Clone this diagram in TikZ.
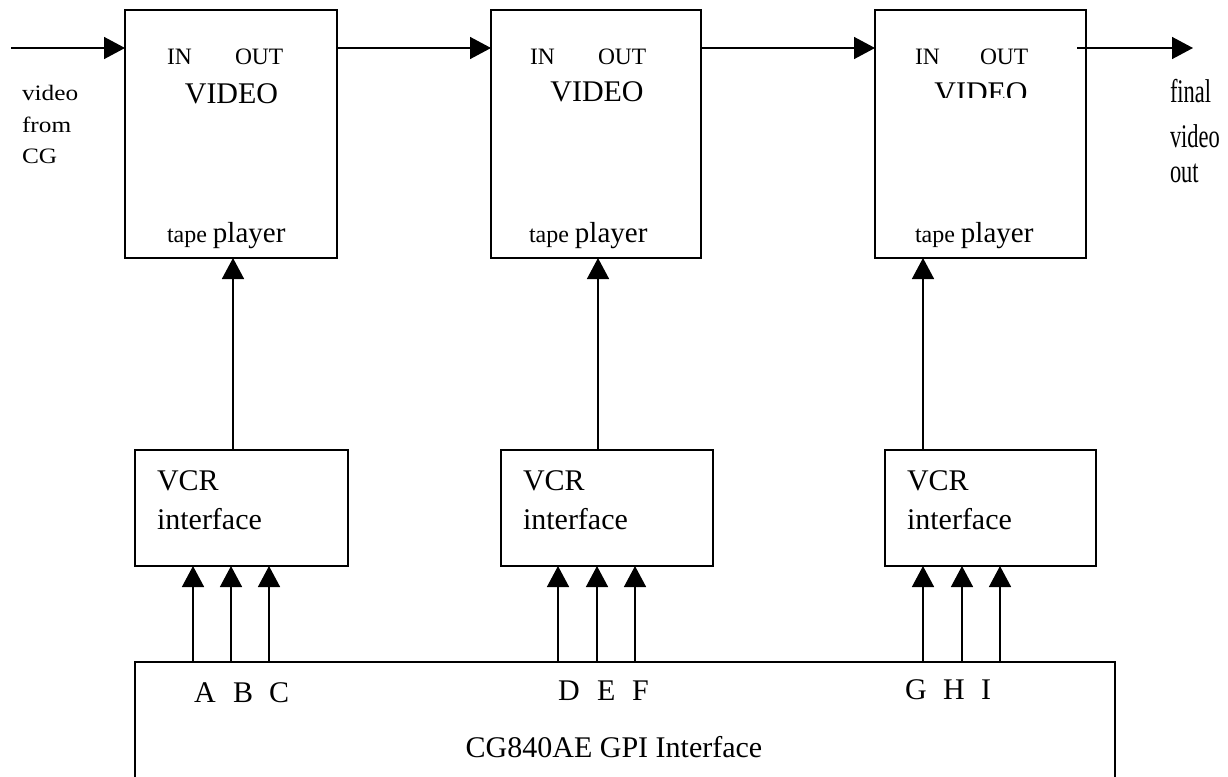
\documentclass[tikz,border=0pt]{standalone}
\usepackage{fontspec}
\setmainfont{Liberation Serif}
\usetikzlibrary{arrows.meta,calc}
\newcommand{\setfs}[1]{\fontsize{#1}{#1}\selectfont}

\begin{document}
\begin{tikzpicture}[x=1pt,y=-1pt,
  box/.style={draw,line width=1.5pt,rectangle,inner sep=0pt,outer sep=0pt},
  tapebox/.style={box,minimum height=248pt},
  vcrbox/.style={box,minimum width=212pt,minimum height=116pt},
  sig/.style={line width=1.5pt,-{Triangle[length=21pt,width=22pt]}},
  txt/.style={inner sep=0pt,outer sep=0pt,anchor=base west},
  ctxt/.style={inner sep=0pt,outer sep=0pt,anchor=base},
  io/.style={txt,font=\setfs{23.5}},
  vid/.style={ctxt,font=\setfs{30}},
  big/.style={txt,font=\setfs{30}},
  pin/.style={txt,font=\setfs{30}}]

\clip (0,0) rectangle (1228,776);
\fill[white] (0,0) rectangle (1228,776);

% tape players
\node[tapebox,minimum width=212pt] (tp1) at (231,134) {};
\node[tapebox,minimum width=210pt] (tp2) at (596,134) {};
\node[tapebox,minimum width=211pt] (tp3) at (980.5,134) {};

% VCR interfaces
\node[vcrbox,minimum width=213pt] (vcr1) at (241.5,508) {};
\node[vcrbox] (vcr2) at (607,508) {};
\node[vcrbox,minimum width=211pt] (vcr3) at (990.5,508) {};

% GPI interface (runs off the lower edge)
\node[box,minimum width=980pt,minimum height=140pt] (gpi) at (625,732) {};

% texts inside the tape players
\node[io] (in1) at (167,65) {IN};
\node[io] (out1) at (235,65) {OUT};
\node[vid] (vid1) at (231.5,103) {VIDEO};
\node[txt] (tp1l) at (167,242) {\setfs{24}tape \setfs{29}player};

\node[io] (in2) at (530,64) {IN};
\node[io] (out2) at (598,64) {OUT};
\node[vid] (vid2) at (597,101) {VIDEO};
\node[txt] (tp2l) at (529,242) {\setfs{24}tape \setfs{29}player};

\node[io] (in3) at (915,64) {IN};
\node[io] (out3) at (980,64) {OUT};
\begin{scope}
  \clip (875,0) rectangle (1086,97);
  \node[vid] (vid3) at (981,102) {VIDEO};
\end{scope}
\node[txt] (tp3l) at (915,242) {\setfs{24}tape \setfs{29}player};

% texts inside the VCR interfaces
\node[big] (v1a) at (157,490) {VCR};
\node[big] (v1b) at (157,529) {interface};
\node[big] (v2a) at (523,490) {VCR};
\node[big] (v2b) at (523,529) {interface};
\node[big] (v3a) at (907,490) {VCR};
\node[big] (v3b) at (907,529) {interface};

% side labels
\node[txt,font=\setfs{22},xscale=1.15] (lin1) at (22,100) {video};
\node[txt,font=\setfs{22},xscale=1.15] (lin2) at (22,132) {from};
\node[txt,font=\setfs{22},xscale=1.15] (lin3) at (22,163) {CG};

\node[txt,font=\setfs{33},xscale=0.68] (lout1) at (1170,102) {final};
\node[txt,font=\setfs{33},xscale=0.68] (lout2) at (1170,147) {video};
\node[txt,font=\setfs{33},xscale=0.68] (lout3) at (1170,182) {out};

% GPI labels
\node[pin] (pA) at (194,702) {A};
\node[pin] (pB) at (233,702) {B};
\node[pin] (pC) at (269,702) {C};
\node[pin] (pD) at (558,700) {D};
\node[pin] (pE) at (597,700) {E};
\node[pin] (pF) at (632,700) {F};
\node[pin] (pG) at (905,699) {G};
\node[pin] (pH) at (943,699) {H};
\node[pin] (pI) at (981,699) {I};
\node[ctxt,font=\setfs{30}] (gpil) at (614,757) {CG840AE GPI Interface};

% video chain
\coordinate (vin) at (11,48);
\coordinate (vout) at (1193,48);
\draw[sig] (vin) -- (vin -| tp1.west);
\draw[sig] (vin -| tp1.east) -- (vin -| tp2.west);
\draw[sig] (vin -| tp2.east) -- (vin -| tp3.west);
\draw[sig] ($(vin -| tp3.east)+(-9,0)$) -- (vout);

% control from VCR interfaces to players
\coordinate (k1) at (233,0);
\coordinate (k2) at (598,0);
\coordinate (k3) at (923,0);
\draw[sig] (k1 |- vcr1.north) -- (k1 |- tp1.south);
\draw[sig] (k2 |- vcr2.north) -- (k2 |- tp2.south);
\draw[sig] (k3 |- vcr3.north) -- (k3 |- tp3.south);

% GPI lines
\foreach \n/\x/\v in {a/193/vcr1,b/231/vcr1,c/269/vcr1,d/558/vcr2,e/597/vcr2,f/635/vcr2,g/923/vcr3,h/962/vcr3,i/1000/vcr3}{
  \coordinate (g\n) at (\x,0);
  \draw[sig] (g\n |- gpi.north) -- (g\n |- \v.south);
}
\end{tikzpicture}
\end{document}
